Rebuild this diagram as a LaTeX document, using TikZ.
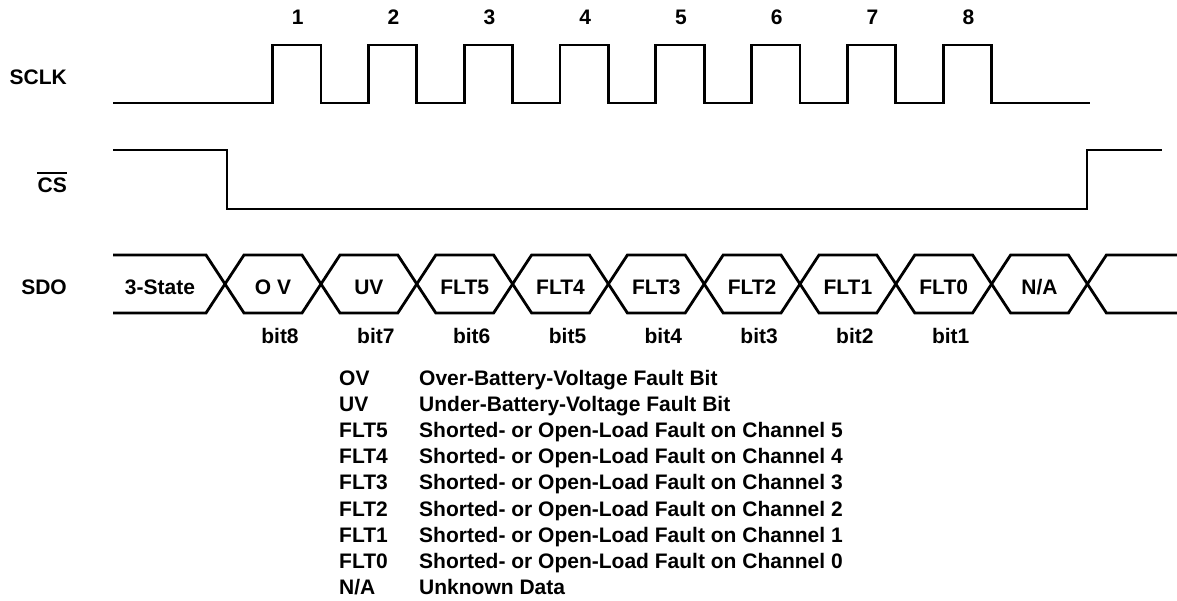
\documentclass[tikz,border=0pt]{standalone}
\usepackage{fontspec}
\setmainfont{Liberation Sans}
\begin{document}
\begin{tikzpicture}[x=1pt,y=-1pt,
  wave/.style={line width=2.8pt, line join=miter},
  lbl/.style={font=\fontsize{21}{25}\selectfont\bfseries, inner sep=0pt},
]
\useasboundingbox (0,0) rectangle (1177,601);
\def\P{95.8}
% signal names
\node[lbl, anchor=base east] (sclk) at (67,85) {SCLK};
\node[lbl, anchor=base east] (cs) at (67,193) {CS};
\draw[line width=2.6pt] ([yshift=5pt]cs.north west) -- ([yshift=5pt]cs.north east);
\node[lbl, anchor=base east] (sdo) at (67,294.5) {SDO};
% SCLK
\draw[wave] (113,103)
  \foreach \k in {1,...,8}{
    -- ({272.5+\P*(\k-1)},103) -- ({272.5+\P*(\k-1)},45)
    -- ({321+\P*(\k-1)},45) -- ({321+\P*(\k-1)},103)
  } -- (1090,103);
\foreach \k in {1,...,8}
  \node[lbl, anchor=base] (n\k) at ({297.75+\P*(\k-1)},25) {\k};
% CS
\draw[wave] (113,150) -- (227,150) -- (227,209) -- (1087,209) -- (1087,150) -- (1162,150);
% SDO
\draw[wave] (113,255) -- (206,255) -- (244,313) -- (302,313) -- (340,255)
  -- (397.8,255) -- (435.8,313) -- (493.6,313) -- (531.6,255)
  -- (589.4,255) -- (627.4,313) -- (685.2,313) -- (723.2,255)
  -- (781,255) -- (819,313) -- (876.8,313) -- (914.8,255)
  -- (972.6,255) -- (1010.6,313) -- (1068.4,313) -- (1106.4,255) -- (1180,255);
\draw[wave] (113,313) -- (206,313) -- (244,255) -- (302,255) -- (340,313)
  -- (397.8,313) -- (435.8,255) -- (493.6,255) -- (531.6,313)
  -- (589.4,313) -- (627.4,255) -- (685.2,255) -- (723.2,313)
  -- (781,313) -- (819,255) -- (876.8,255) -- (914.8,313)
  -- (972.6,313) -- (1010.6,255) -- (1068.4,255) -- (1106.4,313) -- (1180,313);
% cell texts
\foreach \x/\t [count=\i] in {160/3-State,273/O V,368.9/UV,464.7/FLT5,560.5/FLT4,656.3/FLT3,752.1/FLT2,847.9/FLT1,943.7/FLT0,1039.5/N\slash A}
  \node[lbl, anchor=base] (cell\i) at (\x,294.5) {\t};
% bit numbers
\foreach \x/\t [count=\i] in {280/bit8,375.9/bit7,471.7/bit6,567.5/bit5,663.3/bit4,759.1/bit3,854.9/bit2,950.7/bit1}
  \node[lbl, anchor=base] (bit\i) at (\x,344) {\t};
% legend
\foreach \a/\d [count=\i from 0] in {
  OV/Over-Battery-Voltage Fault Bit,
  UV/Under-Battery-Voltage Fault Bit,
  FLT5/Shorted- or Open-Load Fault on Channel 5,
  FLT4/Shorted- or Open-Load Fault on Channel 4,
  FLT3/Shorted- or Open-Load Fault on Channel 3,
  FLT2/Shorted- or Open-Load Fault on Channel 2,
  FLT1/Shorted- or Open-Load Fault on Channel 1,
  FLT0/Shorted- or Open-Load Fault on Channel 0,
  N\slash A/Unknown Data}{
  \node[lbl, anchor=base west] (ab\i) at (339,{385+26.2*\i}) {\a};
  \node[lbl, anchor=base west] (de\i) at (419,{385+26.2*\i}) {\d};
}
\end{tikzpicture}
\end{document}
